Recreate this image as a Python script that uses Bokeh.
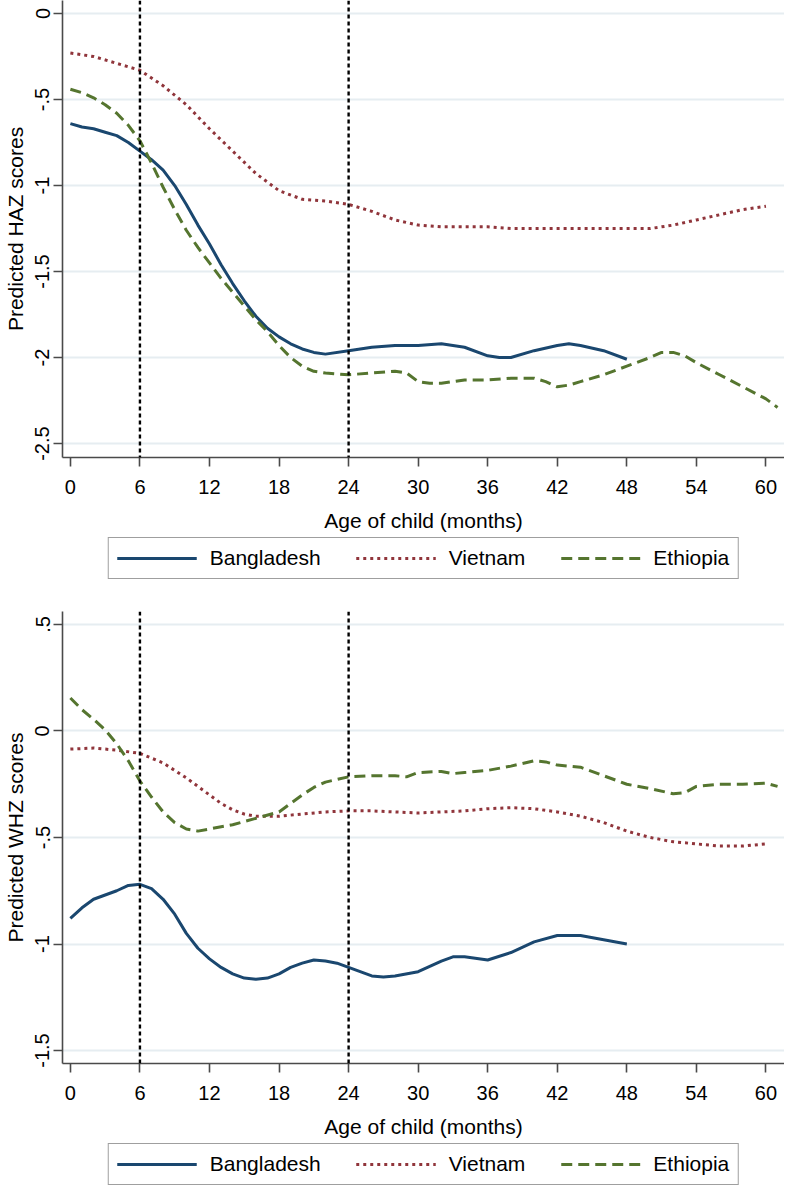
from bokeh.plotting import figure
from bokeh.models import Range1d, Span, Legend, LegendItem, FixedTicker
from bokeh.layouts import column
from bokeh.embed import file_html
from bokeh.resources import INLINE

FONT = "Liberation Sans"

# ---------------- data ----------------
x_ticks = [0, 6, 12, 18, 24, 30, 36, 42, 48, 54, 60]
ref_months = [6, 24]
country_names = ["Bangladesh", "Vietnam", "Ethiopia"]

# HAZ panel
haz_bgd_months = list(range(0, 23)) + [24, 26, 28, 30, 32, 34, 36, 37, 38, 40, 42, 43, 44, 46, 48]
haz_bgd = [-0.64, -0.66, -0.67, -0.69, -0.71, -0.75, -0.80, -0.85, -0.91, -1.00, -1.11, -1.23,
           -1.34, -1.46, -1.57, -1.67, -1.76, -1.83, -1.88, -1.92, -1.95, -1.97, -1.98,
           -1.96, -1.94, -1.93, -1.93, -1.92, -1.94, -1.99, -2.00, -2.00, -1.96, -1.93, -1.92,
           -1.93, -1.96, -2.01]

haz_vnm_months = list(range(0, 61, 2))
haz_vnm = [-0.23, -0.25, -0.29, -0.33, -0.42, -0.53, -0.67, -0.80, -0.93, -1.03, -1.08, -1.09,
           -1.11, -1.15, -1.20, -1.23, -1.24, -1.24, -1.24, -1.25, -1.25, -1.25, -1.25, -1.25,
           -1.25, -1.25, -1.23, -1.20, -1.17, -1.14, -1.12]

haz_eth_months = list(range(0, 23)) + [24, 26, 28, 29, 30, 31, 32, 34, 36, 38, 40, 41, 42, 43, 44,
                                       46, 48, 50, 51, 52, 53, 54, 56, 58, 60, 61]
haz_eth = [-0.44, -0.46, -0.49, -0.53, -0.58, -0.65, -0.74, -0.87, -1.01, -1.14, -1.26, -1.36,
           -1.45, -1.54, -1.62, -1.70, -1.78, -1.85, -1.93, -2.00, -2.05, -2.08, -2.09,
           -2.10, -2.09, -2.08, -2.09, -2.14, -2.15, -2.15, -2.13, -2.13, -2.12, -2.12, -2.14,
           -2.17, -2.16, -2.14, -2.10, -2.05, -2.00, -1.97, -1.97, -1.99, -2.03, -2.10, -2.17,
           -2.24, -2.29]

haz_y_ticks = [0, -0.5, -1, -1.5, -2, -2.5]
haz_y_labels = ["0", "-.5", "-1", "-1.5", "-2", "-2.5"]

# WHZ panel
whz_bgd_months = list(range(0, 29)) + [30, 32, 33, 34, 36, 38, 40, 42, 44, 46, 48]
whz_bgd = [-0.88, -0.83, -0.79, -0.77, -0.75, -0.725, -0.72, -0.74, -0.79, -0.86, -0.95, -1.02,
           -1.07, -1.11, -1.14, -1.16, -1.165, -1.16, -1.14, -1.11, -1.09, -1.075, -1.08, -1.09,
           -1.11, -1.13, -1.15, -1.155, -1.15,
           -1.13, -1.08, -1.06, -1.06, -1.075, -1.04, -0.99, -0.96, -0.96, -0.98, -1.00]

whz_vnm_months = [0, 2, 4, 6, 8, 10, 11, 12, 13, 14, 15, 16, 18, 20, 22, 24, 26, 28, 30, 32, 34,
                  36, 38, 40, 42, 44, 46, 48, 50, 52, 54, 56, 58, 60]
whz_vnm = [-0.085, -0.08, -0.09, -0.105, -0.15, -0.22, -0.26, -0.30, -0.34, -0.37, -0.39, -0.40,
           -0.40, -0.39, -0.38, -0.375, -0.375, -0.38, -0.385, -0.38, -0.375, -0.365, -0.36,
           -0.365, -0.38, -0.40, -0.43, -0.47, -0.50, -0.52, -0.53, -0.54, -0.54, -0.53]

whz_eth_months = list(range(0, 13)) + [14, 16, 18, 19, 20, 21, 22, 24, 26, 28, 29, 30, 32, 33, 34,
                                       36, 38, 40, 41, 42, 44, 46, 48, 50, 52, 53, 54, 56, 58, 60, 61]
whz_eth = [0.155, 0.10, 0.055, 0.005, -0.06, -0.14, -0.235, -0.31, -0.38, -0.43, -0.46, -0.47, -0.46,
           -0.44, -0.41, -0.38, -0.34, -0.30, -0.265, -0.24, -0.215, -0.21, -0.21, -0.215, -0.195,
           -0.19, -0.20, -0.195, -0.185, -0.165, -0.14, -0.145, -0.16, -0.17, -0.21, -0.25, -0.27,
           -0.295, -0.29, -0.26, -0.25, -0.25, -0.245, -0.26]

whz_y_ticks = [0.5, 0, -0.5, -1, -1.5]
whz_y_labels = [".5", "0", "-.5", "-1", "-1.5"]

# ---------------- styles ----------------
line_styles = {
    "Bangladesh": dict(line_color="#1a476f", line_width=3, line_dash="solid"),
    "Vietnam": dict(line_color="#90353b", line_width=3, line_dash="3 4"),
    "Ethiopia": dict(line_color="#55752f", line_width=3, line_dash="11 6"),
}

LEFT = 54
WIDTH = 784


def make_panel(series, ylabel, y_range, y_ticks, y_labels, height):
    p = figure(width=WIDTH, height=height,
               x_range=Range1d(-0.68, 61.6), y_range=Range1d(*y_range),
               output_backend="svg", toolbar_location=None,
               min_border_left=LEFT, min_border_right=0,
               min_border_top=0, min_border_bottom=0)
    p.outline_line_color = None
    p.background_fill_color = "white"
    p.border_fill_color = "white"

    p.xgrid.visible = False
    p.ygrid.ticker = FixedTicker(ticks=y_ticks)
    p.ygrid.grid_line_color = "#e6edf1"
    p.ygrid.grid_line_width = 2

    p.xaxis.ticker = FixedTicker(ticks=x_ticks)
    p.yaxis.ticker = FixedTicker(ticks=y_ticks)
    p.yaxis.major_label_overrides = {t: l for t, l in zip(y_ticks, y_labels)}
    p.yaxis.major_label_orientation = "vertical"

    for ax in (p.xaxis[0], p.yaxis[0]):
        ax.axis_line_color = "#4a4a4a"
        ax.axis_line_width = 1.6
        ax.major_tick_line_color = "#4a4a4a"
        ax.major_tick_line_width = 1.6
        ax.major_tick_in = 0
        ax.major_tick_out = 9
        ax.minor_tick_line_color = None
        ax.major_label_text_font = FONT
        ax.major_label_text_font_size = "20px"
        ax.major_label_text_color = "black"
        ax.axis_label_text_font = FONT
        ax.axis_label_text_font_size = "21px"
        ax.axis_label_text_font_style = "normal"
        ax.axis_label_text_color = "black"

    p.xaxis.axis_label = "Age of child (months)"
    p.xaxis.major_label_standoff = 13
    p.xaxis.axis_label_standoff = 12
    p.yaxis.axis_label = ylabel
    p.yaxis.major_label_standoff = 4
    p.yaxis.axis_label_standoff = 6

    for name, (xs, ys) in zip(country_names, series):
        p.line(xs, ys, **line_styles[name])

    for m in ref_months:
        p.add_layout(Span(location=m, dimension="height", line_color="black",
                          line_width=2.4, line_dash="4 3"))
    return p


def make_legend_fig(height, series):
    # the series are drawn outside this strip's ranges; only the legend key is visible
    f = figure(width=WIDTH, height=height, x_range=Range1d(-1000, -999), y_range=Range1d(0, 1),
               output_backend="svg", toolbar_location=None,
               x_axis_type=None, y_axis_type=None,
               min_border_left=LEFT, min_border_right=0,
               min_border_top=0, min_border_bottom=0)
    f.outline_line_color = None
    f.xgrid.visible = False
    f.ygrid.visible = False
    items = []
    for name, (xs, ys) in zip(country_names, series):
        r = f.line(xs, ys, **line_styles[name])
        items.append(LegendItem(label=name, renderers=[r]))
    legend = Legend(items=items, orientation="horizontal", location="top_center",
                    glyph_width=80, glyph_height=20, label_standoff=13, spacing=35,
                    padding=8, margin=3,
                    label_text_font=FONT, label_text_font_size="21px",
                    label_text_color="black",
                    border_line_color="#404040", border_line_width=1.5,
                    background_fill_color="white", background_fill_alpha=1)
    f.add_layout(legend, "center")
    return f


haz_series = [(haz_bgd_months, haz_bgd), (haz_vnm_months, haz_vnm), (haz_eth_months, haz_eth)]
whz_series = [(whz_bgd_months, whz_bgd), (whz_vnm_months, whz_vnm), (whz_eth_months, whz_eth)]

p1 = make_panel(haz_series, "Predicted HAZ scores", (-2.581, 0.0756), haz_y_ticks, haz_y_labels,
                height=534)
l1 = make_legend_fig(77, haz_series)
p2 = make_panel(whz_series, "Predicted WHZ scores", (-1.561, 0.561), whz_y_ticks, whz_y_labels,
                height=529)
l2 = make_legend_fig(46, whz_series)

layout = column(p1, l1, p2, l2)
open("out.html", "w").write(file_html(layout, INLINE))
